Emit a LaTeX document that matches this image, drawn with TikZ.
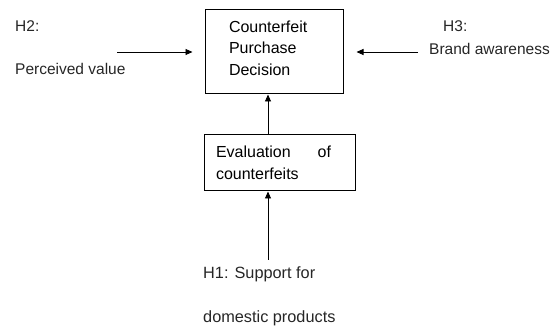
\documentclass[tikz,border=0pt]{standalone}
\usepackage{fontspec}
\setmainfont{Liberation Sans}
\usepackage{xcolor}
\usetikzlibrary{arrows.meta}

\begin{document}
\begin{tikzpicture}[x=1pt, y=-1pt,
    box/.style={draw, line width=1pt, align=left, inner sep=0pt,
                font=\fontsize{16}{21.5}\selectfont},
    label/.style={anchor=base west, inner sep=0pt, text=black!85,
                  font=\fontsize{15.5}{18}\selectfont},
    arr/.style={-{Triangle[length=7pt,width=6pt]}, line width=0.9pt}]
  \useasboundingbox (0,0) rectangle (551,328);

  % --- the two boxes ---
  \node[box, minimum width=138, minimum height=84, text width=90, text depth=51pt]
    (decision) at (274,52) {Counterfeit\\Purchase\\Decision};
  \node[box, minimum width=151, minimum height=56, text width=127]
    (evaluation) at (279.5,163) {Evaluation\hspace{27pt}of\\counterfeits};

  % --- hypotheses ---
  \node[label] (h2) at (15,32) {H2:};
  \node[label] (perceived) at (15,75) {Perceived value};
  \node[label] (h3) at (443,32) {H3:};
  \node[label] (brand) at (429,55) {Brand awareness};
  \node[label, font=\fontsize{16.3}{18}\selectfont] (h1) at (203,279) {H1: Support for};
  \node[label, font=\fontsize{16.3}{18}\selectfont] (domestic) at (203,323) {domestic products};

  % --- arrows ---
  \coordinate (h2end) at (117,52);
  \coordinate (h3end) at (418,52);
  \coordinate (h1end) at (268,260);
  \draw[arr, shorten >=12pt] (h2end) -- (h2end -| decision.west);
  \draw[arr, shorten >=13pt] (h3end) -- (h3end -| decision.east);
  \draw[arr] (h1end) -- (h1end |- evaluation.south);
  \draw[arr] (h1end |- evaluation.north) -- (h1end |- decision.south);
\end{tikzpicture}
\end{document}
